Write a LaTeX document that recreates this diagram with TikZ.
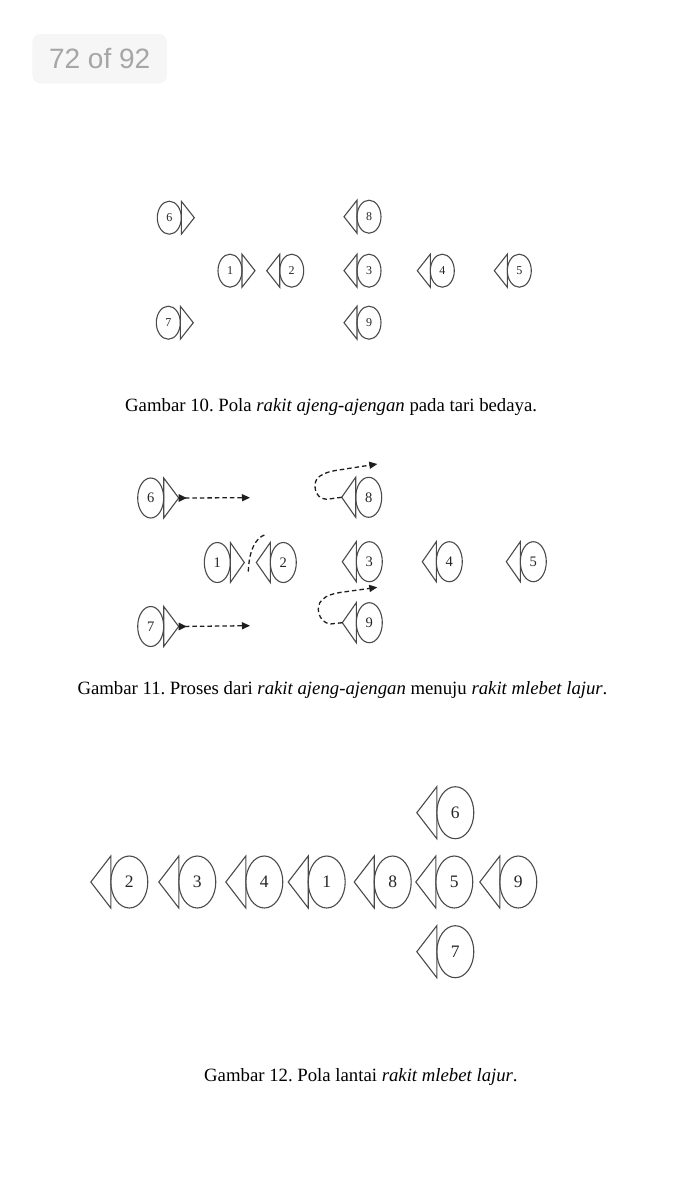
\documentclass[tikz,border=0pt]{standalone}
\usepackage{fontspec}
\setmainfont{Liberation Serif}
\newfontfamily\pagefont{Liberation Sans}
\usetikzlibrary{shapes.geometric,arrows.meta}
\frenchspacing
\definecolor{ink}{HTML}{4A4A4A}
\definecolor{mvink}{HTML}{1E1E1E}
\definecolor{pagebg}{HTML}{F6F6F6}
\definecolor{pagetx}{HTML}{A6A6A6}
\tikzset{
  dancer/.style={ellipse, draw=ink, line width=1.1pt, inner sep=0pt, outer sep=0pt, text=black!85},
  dA/.style={dancer, minimum width=24pt, minimum height=33pt, font=\fontsize{12}{12}\selectfont},
  dB/.style={dancer, minimum width=26pt, minimum height=40pt, font=\fontsize{14.5}{14.5}\selectfont},
  dC/.style={dancer, minimum width=37pt, minimum height=52pt, font=\fontsize{17.5}{17.5}\selectfont},
  tri/.style={draw=ink, line width=1.1pt, line join=miter},
  capt/.style={anchor=base west, inner sep=0pt, font=\fontsize{18.75}{20}\selectfont},
  mv/.style={draw=mvink, line width=1.3pt, dash pattern=on 4.5pt off 3pt},
  mvtip/.style={-{Triangle[length=8pt,width=7pt]}},
  mvboth/.style={{Triangle[length=8pt,width=7.5pt,reversed]}-{Triangle[length=8pt,width=7pt]}},
}
% left-facing triangle on node #1, width #2
\newcommand\triL[2]{%
  \draw[tri] (#1.west |- #1.north) -- (#1.west |- #1.south) -- ([xshift=-#2pt]#1.west) -- cycle;
  \coordinate (#1t) at ([xshift=-#2pt]#1.west);}
% right-facing triangle on node #1, width #2
\newcommand\triR[2]{%
  \draw[tri] (#1.east |- #1.north) -- (#1.east |- #1.south) -- ([xshift=#2pt]#1.east) -- cycle;
  \coordinate (#1t) at ([xshift=#2pt]#1.east);}
\begin{document}
\begin{tikzpicture}[x=1pt,y=-1pt]
\useasboundingbox[fill=white] (0,0) rectangle (675,1200);

% page indicator
\node[draw=black!4, fill=pagebg, rounded corners=8pt, minimum width=134pt, minimum height=49pt, inner sep=0pt,
      text=pagetx, font=\pagefont\fontsize{28}{28}\selectfont] (page) at (99.7,58.7) {72 of 92};

% ---------------- Gambar 10 ----------------
\node[dA] (a6) at (169.3,217.7) {6}; \triR{a6}{13}
\node[dA] (a7) at (168.3,322.7) {7}; \triR{a7}{13}
\node[dA] (a1) at (230,270.7) {1};   \triR{a1}{13}
\node[dA] (a2) at (291.7,270.7) {2}; \triL{a2}{13}
\node[dA] (a8) at (369,216.7) {8};   \triL{a8}{13}
\node[dA] (a3) at (369,270.7) {3};   \triL{a3}{13}
\node[dA] (a4) at (442.3,270.7) {4}; \triL{a4}{13}
\node[dA] (a5) at (519.3,270.7) {5}; \triL{a5}{13}
\node[dA] (a9) at (369,322.7) {9};   \triL{a9}{13}
\node[capt] (cap10) at (125,411.7) {Gambar 10. Pola \textit{rakit ajeng-ajengan} pada tari bedaya.};

% ---------------- Gambar 11 ----------------
\node[dB] (b6) at (150.7,498) {6};   \triR{b6}{15}
\node[dB] (b7) at (150.7,626.5) {7}; \triR{b7}{15}
\node[dB] (b1) at (217.3,562.5) {1}; \triR{b1}{14}
\node[dB] (b2) at (283.3,562.5) {2}; \triL{b2}{14}
\node[dB] (b8) at (368.7,497.3) {8}; \triL{b8}{14}
\node[dB] (b3) at (369.3,561.7) {3}; \triL{b3}{14}
\node[dB] (b4) at (449.3,561.7) {4}; \triL{b4}{14}
\node[dB] (b5) at (533.3,561.7) {5}; \triL{b5}{14}
\node[dB] (b9) at (369.3,622.7) {9}; \triL{b9}{14}

\coordinate (e6) at (250,497.7);
\coordinate (e7) at (250,625.7);
\coordinate (k1) at (248.3,571.5);
\coordinate (k2) at (266,534.3);
\coordinate (e8) at (377.3,464);
\coordinate (e9) at (377.3,587.3);

\draw[mv, mvboth] (b6t) -- (e6);
\draw[mv, mvboth] (b7t) -- (e7);
\draw[mv] (k1) .. controls (249,553) and (254,538) .. (k2);
\draw[mv, mvtip] (b8t) -- (326.7,499.3) .. controls (313,499) and (312,480) .. (320,476)
   .. controls (326,472) and (332,471) .. (340,469.8) -- (e8);
\draw[mv, mvtip] (b9t) -- (330,624) .. controls (318,622) and (315,606) .. (322,600)
   .. controls (327,595) and (332,594) .. (340,592.5) -- (e9);

\node[capt] (cap11) at (77.3,694.3) {Gambar 11. Proses dari \textit{rakit ajeng-ajengan} menuju \textit{rakit mlebet lajur}.};

% ---------------- Gambar 12 ----------------
\node[dC] (c2) at (129.3,882) {2}; \triL{c2}{20}
\node[dC] (c3) at (197.3,882) {3}; \triL{c3}{20}
\node[dC] (c4) at (264.3,882) {4}; \triL{c4}{20}
\node[dC] (c1) at (326.7,882) {1}; \triL{c1}{20}
\node[dC] (c8) at (392.7,882) {8}; \triL{c8}{20}
\node[dC] (c5) at (454.3,882) {5}; \triL{c5}{20}
\node[dC] (c9) at (518.3,882) {9}; \triL{c9}{20}
\node[dC] (c6) at (455.3,812.7) {6}; \triL{c6}{20}
\node[dC] (c7) at (455.3,951.7) {7}; \triL{c7}{20}

\node[capt] (cap12) at (204,1081) {Gambar 12. Pola lantai \textit{rakit mlebet lajur}.};
\end{tikzpicture}
\end{document}
